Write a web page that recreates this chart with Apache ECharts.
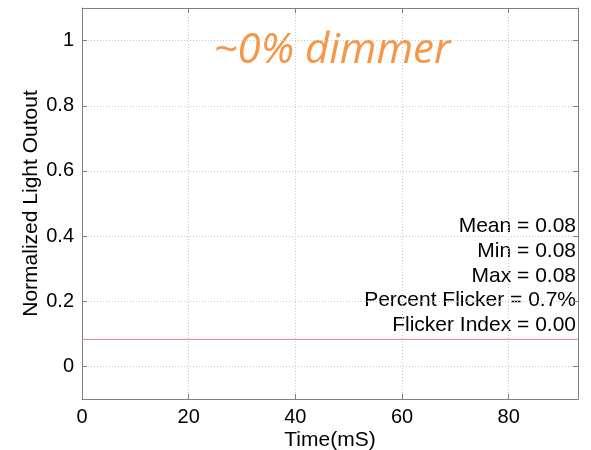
<!DOCTYPE html>
<html><head><meta charset="utf-8">
<script src="https://cdn.jsdelivr.net/npm/echarts@6/dist/echarts.min.js"></script>
<style>html,body{margin:0;padding:0;background:#fff}#c{width:591px;height:450px}</style>
</head><body><div id="c"></div>
<script>
const timeMs = [0, 10, 20, 30, 40, 50, 60, 70, 80, 93];
const lightOut = [0.083, 0.083, 0.083, 0.083, 0.083, 0.083, 0.083, 0.083, 0.083, 0.083];
const xTicks = [0, 20, 40, 60, 80];
const yTicks = [0, 0.2, 0.4, 0.6, 0.8, 1];
const statsLines = ['Mean = 0.08', 'Min = 0.08', 'Max = 0.08', 'Percent Flicker = 0.7%', 'Flicker Index = 0.00'];
const titleText = '~0% dimmer';

const font = 'Liberation Sans, Arial, sans-serif';
const chart = echarts.init(document.getElementById('c'));
const frame = '#7f7f7f';
const gridLine = {show: true, lineStyle: {color: '#c8c8c8', type: [1, 2]}};
const tickStyle = {show: true, inside: true, length: 5, lineStyle: {color: frame}};
chart.setOption({
  animation: false,
  grid: {left: 82, right: 13, top: 8, bottom: 51, containLabel: false, outerBoundsMode: 'none'},
  xAxis: [{
    type: 'value', min: 0, max: 93, interval: 20,
    axisLine: {show: true, onZero: false, lineStyle: {color: frame}},
    axisTick: Object.assign({customValues: xTicks}, tickStyle),
    axisLabel: {color: '#000', fontSize: 20, fontFamily: font, margin: 8, customValues: xTicks},
    splitLine: gridLine,
    name: 'Time(mS)', nameLocation: 'middle', nameGap: 31, nameMoveOverlap: false,
    nameTextStyle: {color: '#000', fontSize: 21, fontFamily: font}
  }, {
    type: 'value', min: 0, max: 93, interval: 20, position: 'top',
    axisLine: {show: true, onZero: false, lineStyle: {color: frame}},
    axisTick: Object.assign({customValues: xTicks}, tickStyle),
    axisLabel: {show: false}, splitLine: {show: false}
  }],
  yAxis: [{
    type: 'value', min: -0.1, max: 1.1,
    axisLine: {show: true, onZero: false, lineStyle: {color: frame}},
    axisTick: Object.assign({customValues: yTicks}, tickStyle),
    axisLabel: {color: '#000', fontSize: 20, fontFamily: font, margin: 8, customValues: yTicks,
      formatter: v => String(Math.round(v * 10) / 10)},
    splitLine: gridLine,
    name: 'Normalized Light Outout', nameLocation: 'middle', nameGap: 40, nameMoveOverlap: false,
    nameTextStyle: {color: '#000', fontSize: 21, fontFamily: font}
  }, {
    type: 'value', min: -0.1, max: 1.1, position: 'right',
    axisLine: {show: true, onZero: false, lineStyle: {color: frame}},
    axisTick: Object.assign({customValues: yTicks}, tickStyle),
    axisLabel: {show: false}, splitLine: {show: false}
  }],
  series: [{
    type: 'line', xAxisIndex: 0, yAxisIndex: 0, showSymbol: false,
    data: timeMs.map((t, i) => [t, lightOut[i]]),
    lineStyle: {color: '#d9848f', width: 1}, z: 5
  }],
  graphic: [{
    type: 'text', x: 332, y: 51,
    style: {text: titleText, fill: '#f79646', fontSize: 42, fontStyle: 'italic',
      fontFamily: 'Open Sans, Noto Sans, sans-serif', align: 'center', verticalAlign: 'middle'}
  }].concat(statsLines.map((s, i) => ({
    type: 'text', right: 15, top: 216 + i * 24.7,
    style: {text: s, fill: '#000', fontSize: 21, fontFamily: font}
  })))
});
</script></body></html>
